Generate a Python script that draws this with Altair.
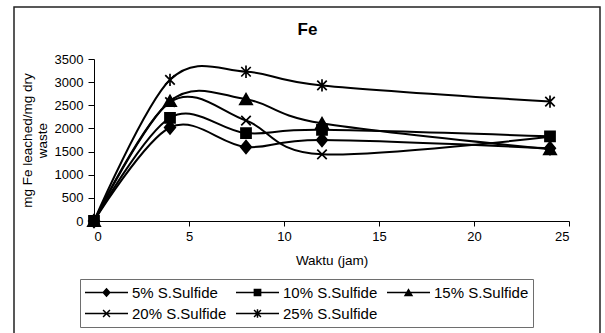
import altair as alt
import pandas as pd

# ---- data ----
hours = [0, 4, 8, 12, 24]
series_names = ["5% S.Sulfide", "10% S.Sulfide", "15% S.Sulfide", "20% S.Sulfide", "25% S.Sulfide"]
s5 = [0, 2020, 1600, 1750, 1570]
s10 = [0, 2230, 1900, 1970, 1830]
s15 = [0, 2590, 2630, 2110, 1550]
s20 = [0, 2570, 2170, 1440, 1820]
s25 = [0, 3050, 3225, 2930, 2580]
all_series = [s5, s10, s15, s20, s25]
x_ticks = [0, 5, 10, 15, 20, 25]
y_ticks = [0, 500, 1000, 1500, 2000, 2500, 3000, 3500]

rows = []
for name, vals in zip(series_names, all_series):
    for h, v in zip(hours, vals):
        rows.append({"jam": h, "fe": v, "series": name})
df = pd.DataFrame(rows)

# marker shapes (plot)
marker_paths = [
    "M0,-1.15L0.95,0L0,1.15L-0.95,0Z",
    "M-0.9,-0.9H0.9V0.9H-0.9Z",
    "M0,-1L1.1,0.9H-1.1Z",
    "M-0.85,-0.85L0.85,0.85M-0.85,0.85L0.85,-0.85",
    "M-0.85,-0.85L0.85,0.85M-0.85,0.85L0.85,-0.85M0,-1.1L0,1.1",
]


# legend shapes: line + marker, all as filled outlines
def f(v):
    return f"{v:.4f}"


k = 0.2
t = 0.035  # half thickness of the line stroke in legend units
line_path = f"M-1,{f(-t)}H1V{f(t)}H-1Z"
a = k * 0.8
d = t / 2 ** 0.5
arm1 = f"M{f(-a+d)},{f(-a-d)}L{f(a+d)},{f(a-d)}L{f(a-d)},{f(a+d)}L{f(-a-d)},{f(-a+d)}Z"
arm2 = f"M{f(-a+d)},{f(a+d)}L{f(-a-d)},{f(a-d)}L{f(a-d)},{f(-a-d)}L{f(a+d)},{f(-a+d)}Z"
vbar = f"M{f(-t)},{f(-k)}L{f(t)},{f(-k)}L{f(t)},{f(k)}L{f(-t)},{f(k)}Z"
legend_paths = [
    line_path + f"M0,{f(-k*1.1)}L{f(k)},0L0,{f(k*1.1)}L{f(-k)},0Z",
    line_path + f"M{f(-k*0.9)},{f(-k*0.9)}H{f(k*0.9)}V{f(k*0.9)}H{f(-k*0.9)}Z",
    line_path + f"M0,{f(-k)}L{f(k*1.1)},{f(k*0.9)}H{f(-k*1.1)}Z",
    line_path + arm1 + arm2,
    line_path + arm1 + arm2 + vbar,
]

FONT = "Liberation Sans"

x_enc = alt.X(
    "jam:Q",
    scale=alt.Scale(domain=[0, 25], nice=False),
    axis=alt.Axis(values=x_ticks, title="Waktu (jam)", grid=False, tickSize=5, format="d",
                  labelPadding=4, titlePadding=10),
)
y_enc = alt.Y(
    "fe:Q",
    scale=alt.Scale(domain=[0, 3500], nice=False),
    axis=alt.Axis(values=y_ticks, title=["mg Fe leached/mg dry", "waste"], grid=False, format="d",
                  tickSize=6, labelPadding=5, titlePadding=5, titleLineHeight=15),
)

base = alt.Chart(df)

lines = base.mark_line(interpolate="cardinal", tension=0, color="black", strokeWidth=2).encode(
    x=x_enc, y=y_enc, detail="series:N"
)

points = base.mark_point(filled=True, fill="black", stroke="black", strokeWidth=1.7, size=125, opacity=1).encode(
    x=x_enc, y=y_enc,
    shape=alt.Shape("series:N", sort=series_names,
                    scale=alt.Scale(domain=series_names, range=marker_paths), legend=None),
)

legend_layer = base.transform_filter("false").mark_point(
    filled=True, fill="black", opacity=1
).encode(
    x=x_enc, y=y_enc,
    shape=alt.Shape(
        "series:N", sort=series_names,
        scale=alt.Scale(domain=series_names, range=legend_paths),
        legend=alt.Legend(
            title=None, orient="none", legendX=-14, legendY=220,
            direction="horizontal", columns=3, gridAlign="each",
            clipHeight=19, columnPadding=8, rowPadding=2, padding=4,
            strokeColor="#6e6e6e", fillColor="white",
            labelFont=FONT, labelFontSize=15, labelColor="black", labelOffset=3, labelLimit=300,
            symbolSize=1849, symbolFillColor="black", symbolOpacity=1,
        ),
    ),
)

frame = alt.Chart(pd.DataFrame({"a": [0]})).mark_rect(
    filled=False, stroke="#222222", strokeWidth=1.5
).encode(x=alt.value(-80), x2=alt.value(506), y=alt.value(-52), y2=alt.value(280))

chart = alt.layer(frame, lines, points, legend_layer).resolve_scale(shape="independent").properties(
    width=475, height=162,
    background="white",
    autosize=alt.AutoSizeParams(type="none"),
    padding={"left": 94, "top": 59, "right": 36, "bottom": 112},
    title=alt.TitleParams("Fe", font=FONT, fontSize=17, fontWeight="bold", anchor="middle",
                          frame="group", dx=-24, offset=-33, color="black"),
).configure_view(stroke=None).configure_axis(
    labelFont=FONT, titleFont=FONT, labelFontSize=13, titleFontSize=13.5,
    titleFontWeight="normal", labelColor="black", titleColor="black",
    domainColor="black", tickColor="black", domainWidth=1, tickWidth=1,
)

chart.save("out.html", embed_options={"renderer": "svg", "actions": False})
